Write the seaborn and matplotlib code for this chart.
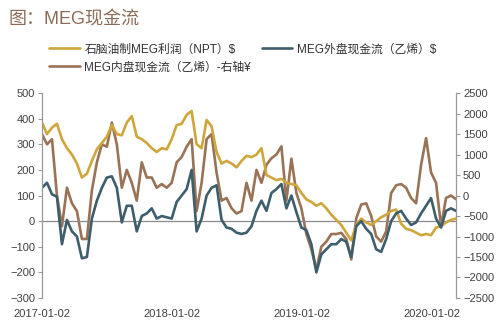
import matplotlib
matplotlib.use("Agg")
import matplotlib.pyplot as plt
import matplotlib.dates as mdates
import seaborn as sns
import pandas as pd
import numpy as np

sns.set_style("white")
plt.rcParams["font.family"] = ["Liberation Sans", "Noto Sans CJK SC", "DejaVu Sans"]

start_date = "2017-01-02"
step = "14D"

npt_profit = [385, 340, 365, 380, 320, 285, 260, 225, 170, 185,
              235, 280, 305, 330, 375, 340, 335, 385, 410, 330,
              320, 305, 285, 270, 285, 280, 320, 375, 380, 415,
              430, 300, 285, 395, 370, 270, 225, 235, 225, 210,
              235, 255, 250, 260, 285, 180, 170, 160, 165, 150,
              145, 140, 110, 85, 75, 60, 70, 50, 25, 5,
              -15, -45, -75, -15, 10, -5, -15, 0, 15, 25,
              40, 45, -10, -30, -35, -45, -55, -50, -55, -25,
              -20, -5, 5, 10]

ext_cash = [130, 150, 105, 95, -90, 5, -40, -60, -145, -140,
            10, 80, 130, 170, 175, 130, -5, 60, 60, -40,
            20, 30, 50, 10, 20, 15, 10, 75, 100, 125,
            200, -40, 10, 100, 130, 140, 5, -25, -30, -45,
            -50, -45, -20, 40, 80, 40, 110, 125, 145, 50,
            100, 35, -25, -35, -90, -200, -130, -110, -90, -90,
            -70, -80, -140, -20, 0, -30, -50, -110, -120, -70,
            0, 30, 40, 10, -15, -5, 30, 60, 90, 10,
            -25, 40, 50, 40]

dom_cash = [1500, 1250, 1375, 0, -750, 190, -190, -380, -1060, -1060,
            125, 810, 1250, 1190, 1780, 1250, 190, 625, 310, -125,
            810, 440, 440, 190, 280, 190, 310, 810, 940, 1190,
            1375, -380, 310, 1375, 1500, 560, -125, -60, -310, -440,
            -380, 310, -125, 625, 310, 750, 910, 1000, 1200, -125,
            900, 60, -310, -940, -1310, -1810, -1250, -1125, -940, -940,
            -910, -1060, -1560, -560, -220, -190, -500, -1000, -1125, -875,
            60, 250, 280, 190, -60, -190, 750, 1400, 560, 310,
            -750, -60, 0, -90]

left_ticks = [-300, -200, -100, 0, 100, 200, 300, 400, 500]
right_ticks = [-2500, -2000, -1500, -1000, -500, 0, 500, 1000, 1500, 2000, 2500]
x_ticks = ["2017-01-02", "2018-01-02", "2019-01-02", "2020-01-02"]

labels = ["石脑油制MEG利润（NPT）$", "MEG外盘现金流（乙烯）$", "MEG内盘现金流（乙烯）-右轴¥"]
colors = ["#CFA63A", "#3E5E6B", "#9A7256"]

dates_a = pd.date_range(start_date, periods=len(npt_profit), freq=step)
dates_b = pd.date_range(start_date, periods=len(ext_cash), freq=step)
dates_c = pd.date_range(start_date, periods=len(dom_cash), freq=step)

fig = plt.figure(figsize=(5, 3.3), dpi=100)
ax = fig.add_axes([0.084, 0.097, 0.828, 0.621])
ax2 = ax.twinx()

lw = 1.9
sns.lineplot(x=dates_c, y=dom_cash, ax=ax2, color=colors[2], lw=lw, label=labels[2], legend=False)
sns.lineplot(x=dates_a, y=npt_profit, ax=ax, color=colors[0], lw=lw, label=labels[0], legend=False)
sns.lineplot(x=dates_b, y=ext_cash, ax=ax, color=colors[1], lw=lw, label=labels[1], legend=False)

ax.set_zorder(ax2.get_zorder() + 1)
ax.patch.set_visible(False)

ax.axhline(0, color="#8a8a8a", lw=0.9, zorder=0.5)

ax.set_ylim(-300, 500)
ax.set_yticks(left_ticks)
ax2.set_ylim(-2500, 2500)
ax2.set_yticks(right_ticks)

xt = pd.to_datetime(x_ticks)
ax.set_xticks(xt)
ax.xaxis.set_major_formatter(mdates.DateFormatter("%Y-%m-%d"))
ax.set_xlim(dates_a[0], dates_a[-1])

for a in (ax, ax2):
    a.set_xlabel("")
    a.set_ylabel("")
    a.spines["top"].set_visible(False)
    a.spines["bottom"].set_visible(False)
    for s in ("left", "right"):
        a.spines[s].set_color("#9a9a9a")
        a.spines[s].set_linewidth(0.9)
    a.grid(False)

ax.spines["right"].set_visible(False)
ax2.spines["left"].set_visible(False)

ax.tick_params(axis="y", which="major", length=3, width=0.8, color="#9a9a9a",
               labelsize=8, labelcolor="#404040", pad=2, direction="out", left=True)
ax2.tick_params(axis="y", which="major", length=3, width=0.8, color="#9a9a9a",
                labelsize=8, labelcolor="#404040", pad=2, direction="out", right=True)
ax.tick_params(axis="x", length=0, labelsize=8, labelcolor="#404040", pad=8)

fig.text(0.016, 0.94, "图：MEG现金流", fontsize=13, color="#8C6A55", ha="left", va="center")

h1, l1 = ax.get_legend_handles_labels()
h2, l2 = ax2.get_legend_handles_labels()
handles = [h1[0], h2[0], h1[1]]
labs = [l1[0], l2[0], l1[1]]
fig.legend(handles, labs, ncol=2, loc="upper left", bbox_to_anchor=(0.098, 0.868),
           frameon=False, fontsize=8.5, handlelength=2.6, handletextpad=0.4,
           columnspacing=0.9, labelspacing=0.5, borderaxespad=0, borderpad=0,
           labelcolor="#333333")

fig.savefig("out.png", dpi=100)
